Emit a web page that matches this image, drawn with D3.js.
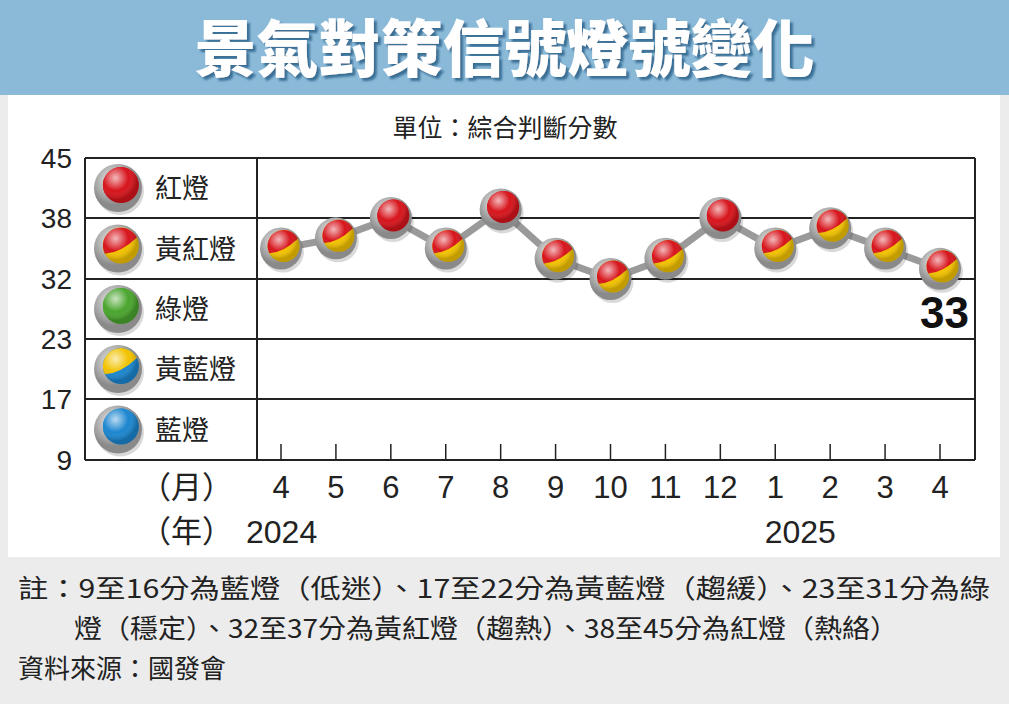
<!DOCTYPE html>
<html><head><meta charset="utf-8">
<script src="https://cdn.jsdelivr.net/npm/d3@7"></script>
<style>body{margin:0;background:#fff}svg{display:block;font-family:"Noto Sans CJK TC",sans-serif}</style>
</head><body><div id="chart"></div>
<script>
const months = ["4","5","6","7","8","9","10","11","12","1","2","3","4"];
const scores = [35,36,38,35,39,34,32,34,38,35,37,35,33];
const yTicks = [45,38,32,23,17,9];
const lights = [
  {name:"紅燈", top:"#d7141c", bottom:"#d7141c"},
  {name:"黃紅燈", top:"#d7141c", bottom:"#f2c200"},
  {name:"綠燈", top:"#4aa52e", bottom:"#4aa52e"},
  {name:"黃藍燈", top:"#f2c200", bottom:"#1b86cf"},
  {name:"藍燈", top:"#1b86cf", bottom:"#1b86cf"}
];
const notes = ["註：9至16分為藍燈（低迷）、17至22分為黃藍燈（趨緩）、23至31分為綠",
  "　　燈（穩定）、32至37分為黃紅燈（趨熱）、38至45分為紅燈（熱絡）",
  "資料來源：國發會"];
const noteWidths = [972, 880, 0];

const width = 1009, height = 704;
const svg = d3.select("#chart").append("svg").attr("width", width).attr("height", height);
const defs = svg.append("defs");

const shadow = defs.append("filter").attr("id", "shadow");
shadow.append("feDropShadow").attr("dx", 3).attr("dy", 3).attr("stdDeviation", 1).attr("flood-color", "#3a6f96");

svg.append("rect").attr("width", width).attr("height", height).attr("fill", "#ececec");
svg.append("rect").attr("x", 8).attr("y", 95).attr("width", 992).attr("height", 462).attr("fill", "#fff");
svg.append("rect").attr("width", width).attr("height", 95).attr("fill", "#8bbad9");
svg.append("text").attr("x", width / 2).attr("y", 72).attr("text-anchor", "middle")
  .attr("font-size", 62).attr("font-weight", 900).attr("fill", "#fff").attr("filter", "url(#shadow)")
  .text("景氣對策信號燈號變化");
svg.append("text").attr("x", 505).attr("y", 137).attr("text-anchor", "middle")
  .attr("font-size", 25).attr("fill", "#222").text("單位：綜合判斷分數");

const y = d3.scaleLinear().domain([9,17,23,32,38,45]).range([460,399,339,279,218,158]);
const x = d3.scalePoint().domain(d3.range(months.length)).range([281, 940]);
const left = 85, mid = 257, right = 975;

const ring = defs.append("radialGradient").attr("id", "ring").attr("cx", "40%").attr("cy", "35%");
ring.append("stop").attr("offset", "0%").attr("stop-color", "#f4f4f4");
ring.append("stop").attr("offset", "100%").attr("stop-color", "#8a8a8a");
const shine = defs.append("radialGradient").attr("id", "shine").attr("cx", "35%").attr("cy", "30%").attr("r", "60%");
shine.append("stop").attr("offset", "0%").attr("stop-color", "#fff").attr("stop-opacity", 0.7);
shine.append("stop").attr("offset", "60%").attr("stop-color", "#fff").attr("stop-opacity", 0);
shine.append("stop").attr("offset", "100%").attr("stop-color", "#000").attr("stop-opacity", 0.2);

function bulb(g, cx, cy, R, r, light) {
  g.append("circle").attr("cx", cx + 2).attr("cy", cy + 3).attr("r", R).attr("fill", "#000").attr("opacity", 0.15);
  g.append("circle").attr("cx", cx).attr("cy", cy).attr("r", R).attr("fill", "url(#ring)");
  const ox = cx + R * 0.12, oy = cy - R * 0.12;
  g.append("circle").attr("cx", ox).attr("cy", oy).attr("r", r).attr("fill", light.bottom);
  const a = Math.PI * 0.15;
  g.append("path").attr("fill", light.top).attr("d",
    `M${ox - r * Math.cos(a)},${oy + r * Math.sin(a)} A${r},${r} 0 0 1 ${ox + r * Math.cos(a)},${oy - r * Math.sin(a)} Q${ox},${oy + r * 0.4} ${ox - r * Math.cos(a)},${oy + r * Math.sin(a)}Z`);
  g.append("circle").attr("cx", ox).attr("cy", oy).attr("r", r).attr("fill", "url(#shine)");
}

const grid = svg.append("g").attr("stroke", "#222").attr("stroke-width", 2);
yTicks.forEach(t => grid.append("line").attr("x1", left).attr("x2", right).attr("y1", y(t)).attr("y2", y(t)));
[left, mid, right].forEach(xx => grid.append("line").attr("x1", xx).attr("x2", xx).attr("y1", y(45)).attr("y2", y(9)));
months.forEach((m, i) => grid.append("line").attr("x1", x(i)).attr("x2", x(i)).attr("y1", y(9) - 16).attr("y2", y(9)).attr("stroke-width", 1.5));

svg.append("g").selectAll("text").data(yTicks).join("text")
  .attr("x", 72).attr("y", d => y(d) + 10).attr("text-anchor", "end")
  .attr("font-family", "Liberation Sans, Arial").attr("font-size", 28).attr("fill", "#222").text(d => d);

const bands = [45,38,32,23,17,9];
lights.forEach((l, i) => {
  const cy = (y(bands[i]) + y(bands[i + 1])) / 2;
  const g = svg.append("g");
  bulb(g, 118, cy, 24, 18, l);
  g.append("text").attr("x", 155).attr("y", cy + 10).attr("font-size", 27).attr("fill", "#222").text(l.name);
});

svg.append("path").datum(scores)
  .attr("d", d3.line().x((d, i) => x(i)).y(d => y(d)))
  .attr("fill", "none").attr("stroke", "#9a9a9a").attr("stroke-width", 7);
scores.forEach((s, i) => bulb(svg.append("g"), x(i), y(s), 21, 16, lights[s >= 38 ? 0 : 1]));

svg.append("text").attr("x", 969).attr("y", 328).attr("text-anchor", "end")
  .attr("font-family", "Liberation Sans, Arial").attr("font-weight", 700).attr("font-size", 44)
  .attr("fill", "#111").text(scores[scores.length - 1]);

svg.append("g").selectAll("text").data(months).join("text")
  .attr("x", (d, i) => x(i)).attr("y", 498).attr("text-anchor", "middle")
  .attr("font-family", "Liberation Sans, Arial").attr("font-size", 31).attr("fill", "#222").text(d => d);
svg.append("text").attr("x", 140).attr("y", 498).attr("font-size", 31).attr("fill", "#222").text("（月）");
svg.append("text").attr("x", 140).attr("y", 542).attr("font-size", 31).attr("fill", "#222").text("（年）");
svg.append("text").attr("x", 246).attr("y", 543).attr("font-family", "Liberation Sans, Arial")
  .attr("font-size", 32).attr("fill", "#222").text("2024");
svg.append("text").attr("x", x(9) + 25).attr("y", 543).attr("text-anchor", "middle").attr("font-family", "Liberation Sans, Arial")
  .attr("font-size", 32).attr("fill", "#222").text("2025");

svg.append("g").selectAll("text").data(notes).join("text")
  .attr("x", 18).attr("y", (d, i) => 598 + i * 40)
  .attr("font-size", 26).attr("fill", "#222")
  .each(function (d, i) { if (noteWidths[i]) d3.select(this).attr("textLength", noteWidths[i]).attr("lengthAdjust", "spacingAndGlyphs"); })
  .text(d => d);
</script></body></html>
